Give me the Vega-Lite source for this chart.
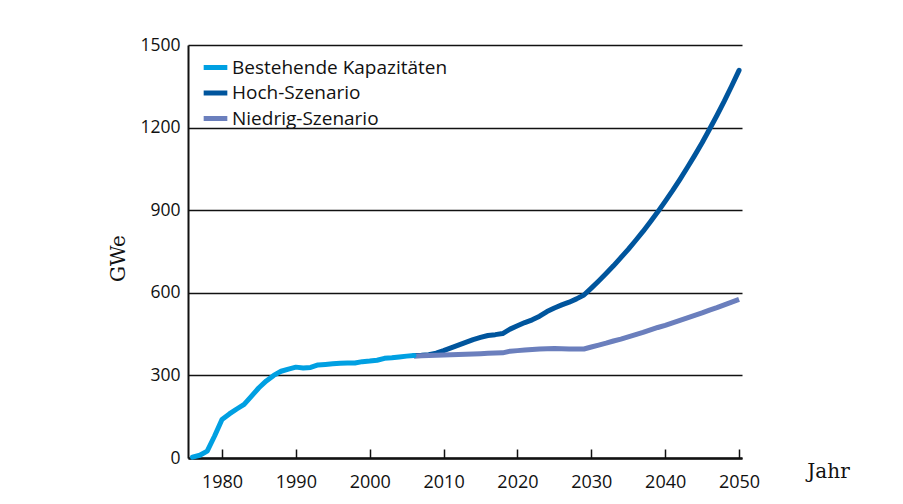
{
  "$schema": "https://vega.github.io/schema/vega-lite/v6.json",
  "width": 554,
  "height": 413,
  "autosize": {"type": "none"},
  "padding": {"left": 188, "top": 45, "right": 161, "bottom": 46},
  "background": "white",
  "config": {
    "view": {"stroke": null},
    "font": "Open Sans",
    "legend": {
      "orient": "none",
      "legendX": 13,
      "legendY": 8,
      "symbolType": "stroke",
      "symbolStrokeWidth": 5,
      "symbolSize": 560,
      "labelFont": "Open Sans",
      "labelFontSize": 19,
      "labelColor": "#111111",
      "labelOffset": 2,
      "labelLimit": 0,
      "rowPadding": 0.5,
      "padding": 0
    }
  },
  "datasets": {
    "bestehend": [
      {"jahr": 1976, "gwe": 3, "serie": "Bestehende Kapazitäten"},
      {"jahr": 1977, "gwe": 10, "serie": "Bestehende Kapazitäten"},
      {"jahr": 1978, "gwe": 25, "serie": "Bestehende Kapazitäten"},
      {"jahr": 1979, "gwe": 80, "serie": "Bestehende Kapazitäten"},
      {"jahr": 1980, "gwe": 140, "serie": "Bestehende Kapazitäten"},
      {"jahr": 1981, "gwe": 160, "serie": "Bestehende Kapazitäten"},
      {"jahr": 1982, "gwe": 178, "serie": "Bestehende Kapazitäten"},
      {"jahr": 1983, "gwe": 195, "serie": "Bestehende Kapazitäten"},
      {"jahr": 1984, "gwe": 225, "serie": "Bestehende Kapazitäten"},
      {"jahr": 1985, "gwe": 255, "serie": "Bestehende Kapazitäten"},
      {"jahr": 1986, "gwe": 280, "serie": "Bestehende Kapazitäten"},
      {"jahr": 1987, "gwe": 300, "serie": "Bestehende Kapazitäten"},
      {"jahr": 1988, "gwe": 315, "serie": "Bestehende Kapazitäten"},
      {"jahr": 1989, "gwe": 323, "serie": "Bestehende Kapazitäten"},
      {"jahr": 1990, "gwe": 330, "serie": "Bestehende Kapazitäten"},
      {"jahr": 1991, "gwe": 327, "serie": "Bestehende Kapazitäten"},
      {"jahr": 1992, "gwe": 329, "serie": "Bestehende Kapazitäten"},
      {"jahr": 1993, "gwe": 338, "serie": "Bestehende Kapazitäten"},
      {"jahr": 1994, "gwe": 340, "serie": "Bestehende Kapazitäten"},
      {"jahr": 1995, "gwe": 342, "serie": "Bestehende Kapazitäten"},
      {"jahr": 1996, "gwe": 344, "serie": "Bestehende Kapazitäten"},
      {"jahr": 1997, "gwe": 345, "serie": "Bestehende Kapazitäten"},
      {"jahr": 1998, "gwe": 345, "serie": "Bestehende Kapazitäten"},
      {"jahr": 1999, "gwe": 350, "serie": "Bestehende Kapazitäten"},
      {"jahr": 2000, "gwe": 352, "serie": "Bestehende Kapazitäten"},
      {"jahr": 2001, "gwe": 355, "serie": "Bestehende Kapazitäten"},
      {"jahr": 2002, "gwe": 362, "serie": "Bestehende Kapazitäten"},
      {"jahr": 2003, "gwe": 364, "serie": "Bestehende Kapazitäten"},
      {"jahr": 2004, "gwe": 367, "serie": "Bestehende Kapazitäten"},
      {"jahr": 2005, "gwe": 370, "serie": "Bestehende Kapazitäten"},
      {"jahr": 2006, "gwe": 372, "serie": "Bestehende Kapazitäten"}
    ],
    "hoch": [
      {"jahr": 2006, "gwe": 372, "serie": "Hoch-Szenario"},
      {"jahr": 2007, "gwe": 373, "serie": "Hoch-Szenario"},
      {"jahr": 2008, "gwe": 375, "serie": "Hoch-Szenario"},
      {"jahr": 2009, "gwe": 381, "serie": "Hoch-Szenario"},
      {"jahr": 2010, "gwe": 390, "serie": "Hoch-Szenario"},
      {"jahr": 2011, "gwe": 400, "serie": "Hoch-Szenario"},
      {"jahr": 2012, "gwe": 410, "serie": "Hoch-Szenario"},
      {"jahr": 2013, "gwe": 420, "serie": "Hoch-Szenario"},
      {"jahr": 2014, "gwe": 430, "serie": "Hoch-Szenario"},
      {"jahr": 2015, "gwe": 438, "serie": "Hoch-Szenario"},
      {"jahr": 2016, "gwe": 445, "serie": "Hoch-Szenario"},
      {"jahr": 2017, "gwe": 448, "serie": "Hoch-Szenario"},
      {"jahr": 2018, "gwe": 452, "serie": "Hoch-Szenario"},
      {"jahr": 2019, "gwe": 468, "serie": "Hoch-Szenario"},
      {"jahr": 2020, "gwe": 480, "serie": "Hoch-Szenario"},
      {"jahr": 2021, "gwe": 492, "serie": "Hoch-Szenario"},
      {"jahr": 2022, "gwe": 502, "serie": "Hoch-Szenario"},
      {"jahr": 2023, "gwe": 515, "serie": "Hoch-Szenario"},
      {"jahr": 2024, "gwe": 532, "serie": "Hoch-Szenario"},
      {"jahr": 2025, "gwe": 545, "serie": "Hoch-Szenario"},
      {"jahr": 2026, "gwe": 556, "serie": "Hoch-Szenario"},
      {"jahr": 2027, "gwe": 566, "serie": "Hoch-Szenario"},
      {"jahr": 2028, "gwe": 578, "serie": "Hoch-Szenario"},
      {"jahr": 2029, "gwe": 592, "serie": "Hoch-Szenario"},
      {"jahr": 2030, "gwe": 617, "serie": "Hoch-Szenario"},
      {"jahr": 2031, "gwe": 643, "serie": "Hoch-Szenario"},
      {"jahr": 2032, "gwe": 670, "serie": "Hoch-Szenario"},
      {"jahr": 2033, "gwe": 698, "serie": "Hoch-Szenario"},
      {"jahr": 2034, "gwe": 728, "serie": "Hoch-Szenario"},
      {"jahr": 2035, "gwe": 758, "serie": "Hoch-Szenario"},
      {"jahr": 2036, "gwe": 790, "serie": "Hoch-Szenario"},
      {"jahr": 2037, "gwe": 823, "serie": "Hoch-Szenario"},
      {"jahr": 2038, "gwe": 858, "serie": "Hoch-Szenario"},
      {"jahr": 2039, "gwe": 894, "serie": "Hoch-Szenario"},
      {"jahr": 2040, "gwe": 932, "serie": "Hoch-Szenario"},
      {"jahr": 2041, "gwe": 971, "serie": "Hoch-Szenario"},
      {"jahr": 2042, "gwe": 1012, "serie": "Hoch-Szenario"},
      {"jahr": 2043, "gwe": 1055, "serie": "Hoch-Szenario"},
      {"jahr": 2044, "gwe": 1099, "serie": "Hoch-Szenario"},
      {"jahr": 2045, "gwe": 1145, "serie": "Hoch-Szenario"},
      {"jahr": 2046, "gwe": 1194, "serie": "Hoch-Szenario"},
      {"jahr": 2047, "gwe": 1244, "serie": "Hoch-Szenario"},
      {"jahr": 2048, "gwe": 1296, "serie": "Hoch-Szenario"},
      {"jahr": 2049, "gwe": 1351, "serie": "Hoch-Szenario"},
      {"jahr": 2050, "gwe": 1408, "serie": "Hoch-Szenario"}
    ],
    "niedrig": [
      {"jahr": 2006, "gwe": 370, "serie": "Niedrig-Szenario"},
      {"jahr": 2007, "gwe": 371, "serie": "Niedrig-Szenario"},
      {"jahr": 2008, "gwe": 372, "serie": "Niedrig-Szenario"},
      {"jahr": 2009, "gwe": 373, "serie": "Niedrig-Szenario"},
      {"jahr": 2010, "gwe": 374, "serie": "Niedrig-Szenario"},
      {"jahr": 2011, "gwe": 375, "serie": "Niedrig-Szenario"},
      {"jahr": 2012, "gwe": 376, "serie": "Niedrig-Szenario"},
      {"jahr": 2013, "gwe": 377, "serie": "Niedrig-Szenario"},
      {"jahr": 2014, "gwe": 378, "serie": "Niedrig-Szenario"},
      {"jahr": 2015, "gwe": 379, "serie": "Niedrig-Szenario"},
      {"jahr": 2016, "gwe": 380, "serie": "Niedrig-Szenario"},
      {"jahr": 2017, "gwe": 381, "serie": "Niedrig-Szenario"},
      {"jahr": 2018, "gwe": 382, "serie": "Niedrig-Szenario"},
      {"jahr": 2019, "gwe": 388, "serie": "Niedrig-Szenario"},
      {"jahr": 2020, "gwe": 390, "serie": "Niedrig-Szenario"},
      {"jahr": 2021, "gwe": 392, "serie": "Niedrig-Szenario"},
      {"jahr": 2022, "gwe": 394, "serie": "Niedrig-Szenario"},
      {"jahr": 2023, "gwe": 396, "serie": "Niedrig-Szenario"},
      {"jahr": 2024, "gwe": 397, "serie": "Niedrig-Szenario"},
      {"jahr": 2025, "gwe": 398, "serie": "Niedrig-Szenario"},
      {"jahr": 2026, "gwe": 397, "serie": "Niedrig-Szenario"},
      {"jahr": 2027, "gwe": 396, "serie": "Niedrig-Szenario"},
      {"jahr": 2028, "gwe": 396, "serie": "Niedrig-Szenario"},
      {"jahr": 2029, "gwe": 396, "serie": "Niedrig-Szenario"},
      {"jahr": 2030, "gwe": 403, "serie": "Niedrig-Szenario"},
      {"jahr": 2031, "gwe": 410, "serie": "Niedrig-Szenario"},
      {"jahr": 2032, "gwe": 417, "serie": "Niedrig-Szenario"},
      {"jahr": 2033, "gwe": 425, "serie": "Niedrig-Szenario"},
      {"jahr": 2034, "gwe": 432, "serie": "Niedrig-Szenario"},
      {"jahr": 2035, "gwe": 440, "serie": "Niedrig-Szenario"},
      {"jahr": 2036, "gwe": 448, "serie": "Niedrig-Szenario"},
      {"jahr": 2037, "gwe": 456, "serie": "Niedrig-Szenario"},
      {"jahr": 2038, "gwe": 465, "serie": "Niedrig-Szenario"},
      {"jahr": 2039, "gwe": 474, "serie": "Niedrig-Szenario"},
      {"jahr": 2040, "gwe": 482, "serie": "Niedrig-Szenario"},
      {"jahr": 2041, "gwe": 491, "serie": "Niedrig-Szenario"},
      {"jahr": 2042, "gwe": 500, "serie": "Niedrig-Szenario"},
      {"jahr": 2043, "gwe": 509, "serie": "Niedrig-Szenario"},
      {"jahr": 2044, "gwe": 518, "serie": "Niedrig-Szenario"},
      {"jahr": 2045, "gwe": 527, "serie": "Niedrig-Szenario"},
      {"jahr": 2046, "gwe": 537, "serie": "Niedrig-Szenario"},
      {"jahr": 2047, "gwe": 546, "serie": "Niedrig-Szenario"},
      {"jahr": 2048, "gwe": 556, "serie": "Niedrig-Szenario"},
      {"jahr": 2049, "gwe": 566, "serie": "Niedrig-Szenario"},
      {"jahr": 2050, "gwe": 576, "serie": "Niedrig-Szenario"}
    ]
  },
  "encoding": {
    "x": {
      "field": "jahr",
      "type": "quantitative",
      "scale": {"domain": [1975.4, 2050.4], "nice": false, "zero": false},
      "axis": {
        "values": [1980, 1990, 2000, 2010, 2020, 2030, 2040, 2050],
        "format": "d",
        "grid": false,
        "domainColor": "#111111",
        "domainWidth": 2.5,
        "tickColor": "#111111",
        "tickWidth": 1.5,
        "tickSize": -9,
        "labelFont": "Open Sans",
        "labelFontSize": 18,
        "labelColor": "#111111",
        "labelPadding": 24,
        "labelFlush": false,
        "title": "Jahr",
        "titleFont": "DejaVu Serif",
        "titleFontSize": 20,
        "titleFontWeight": "normal",
        "titleColor": "#111111",
        "titleAnchor": "start",
        "titleAlign": "center",
        "titleBaseline": "middle",
        "titleX": 640,
        "titleY": 13
      }
    },
    "y": {
      "field": "gwe",
      "type": "quantitative",
      "scale": {"domain": [0, 1500], "nice": false},
      "axis": {
        "values": [0, 300, 600, 900, 1200, 1500],
        "format": "d",
        "grid": true,
        "gridColor": "#111111",
        "gridWidth": 1.5,
        "gridOpacity": 1,
        "domainColor": "#111111",
        "domainWidth": 2,
        "ticks": false,
        "labelFont": "Open Sans",
        "labelFontSize": 17.5,
        "labelColor": "#111111",
        "labelPadding": 8,
        "title": "GWe",
        "titleFont": "DejaVu Serif",
        "titleFontSize": 20,
        "titleFontWeight": "normal",
        "titleColor": "#111111",
        "titleAngle": -90,
        "titleAlign": "center",
        "titleBaseline": "middle",
        "titleX": -70,
        "titleY": 213
      }
    },
    "color": {
      "field": "serie",
      "type": "nominal",
      "scale": {
        "domain": ["Bestehende Kapazitäten", "Hoch-Szenario", "Niedrig-Szenario"],
        "range": ["#00a0e2", "#00559d", "#6b7fbd"]
      },
      "legend": {"title": null}
    }
  },
  "layer": [
    {"data": {"name": "hoch"}, "mark": {"type": "line", "strokeWidth": 5, "strokeCap": "round", "strokeJoin": "round"}},
    {"data": {"name": "niedrig"}, "mark": {"type": "line", "strokeWidth": 5, "strokeCap": "butt", "strokeJoin": "round"}},
    {"data": {"name": "bestehend"}, "mark": {"type": "line", "strokeWidth": 5, "strokeCap": "round", "strokeJoin": "round"}}
  ]
}
